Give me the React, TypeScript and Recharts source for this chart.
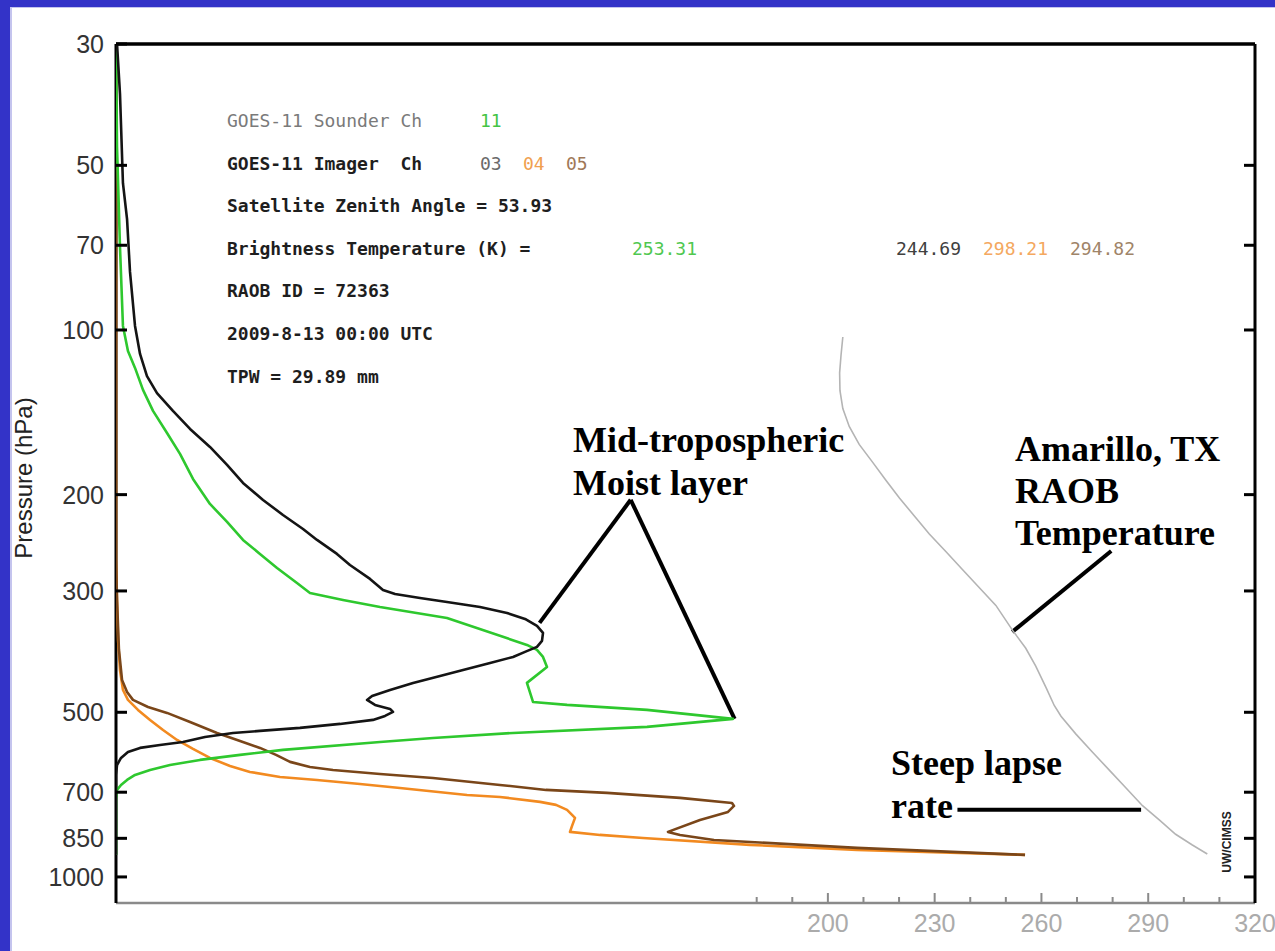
import React from 'react';
import { ScatterChart, Scatter, XAxis, YAxis, ReferenceLine } from 'recharts';

// ---- axis ticks / labels ----
const pressureTicks = [30, 50, 70, 100, 200, 300, 500, 700, 850, 1000];
const tempTicks = [180, 190, 200, 210, 220, 230, 240, 250, 260, 270, 280, 290, 300, 310, 320];
const tempLabels = [200, 230, 260, 290, 320];
const tempMajor = [200, 230, 260, 290];

// ---- weighting functions: [relative weight (0..1 of plot width), pressure hPa] ----
const imagerCh03: [number, number][] = [
  [0.0009, 30], [0.0035, 37], [0.0061, 53.9], [0.0097, 62.7], [0.0123, 78.3], [0.0167, 98.3],
  [0.0211, 110.6], [0.0272, 121.4], [0.036, 130.4], [0.05, 140.6], [0.065, 151.7], [0.0825, 163.6],
  [0.0975, 176.5], [0.1115, 190.4], [0.1291, 204.5], [0.1466, 217.9], [0.1642, 231.1], [0.1765, 242],
  [0.194, 256.7], [0.2054, 268.9], [0.223, 285.2], [0.2344, 298.8], [0.245, 303.8], [0.2669, 309],
  [0.2906, 314.2], [0.3196, 320.9], [0.3433, 329.1], [0.3591, 337.5], [0.3696, 347.6], [0.3749, 358],
  [0.374, 370.2], [0.3696, 379.7], [0.3591, 387.8], [0.3486, 396.1], [0.3284, 406.2], [0.3047, 418.4],
  [0.2845, 429.1], [0.2608, 441.8], [0.2406, 455.1], [0.2248, 466.8], [0.2204, 474.6], [0.2274, 484.7],
  [0.2406, 492.9], [0.2432, 499.2], [0.2362, 507.7], [0.2256, 516.3], [0.1967, 525.1], [0.1615, 534],
  [0.1264, 540.8], [0.1027, 545.4], [0.0781, 554.7], [0.0588, 566.6], [0.0386, 573.7], [0.0211, 580.9],
  [0.0105, 590.8], [0.0044, 606], [0.0009, 624.2], [0, 651], [0, 911.3],
];
const sounderCh11: [number, number][] = [
  [0, 30], [0.0009, 46.3], [0.0035, 70.5], [0.0061, 98.3], [0.0105, 109.2], [0.0167, 117.3],
  [0.0237, 128.7], [0.0325, 140.6], [0.0448, 154.3], [0.0562, 168.5], [0.0676, 187.2], [0.0825, 208],
  [0.0975, 224.3], [0.1115, 242], [0.1264, 256.7], [0.1414, 272.3], [0.1589, 290.1], [0.1703, 302.6],
  [0.1993, 311.6], [0.2318, 320.9], [0.2906, 336.1], [0.3608, 376.5], [0.3696, 384.6], [0.3749, 396.1],
  [0.3784, 413.1], [0.3608, 441.8], [0.3661, 478.7], [0.396, 484.7], [0.4662, 495], [0.5417, 514.1],
  [0.4662, 531.7], [0.3486, 545.4], [0.2783, 557.2], [0.2318, 566.6], [0.1466, 585.8], [0.1089, 598.2],
  [0.0737, 611], [0.0474, 624.2], [0.0299, 637.4], [0.0167, 651], [0.0097, 664.8], [0.0044, 678.9],
  [0.0009, 693.3], [0, 723.2], [0, 911.3],
];
const imagerCh04: [number, number][] = [
  [0, 30], [0, 263.3], [0.0009, 311.6], [0.0018, 368.6], [0.0035, 418.4], [0.0061, 455.1],
  [0.0105, 474.6], [0.0193, 495], [0.0299, 516.3], [0.0413, 538.7], [0.0536, 561.8], [0.0676, 583.4],
  [0.0825, 606], [0.1001, 626.8], [0.1176, 642.7], [0.144, 656.4], [0.1765, 664.8], [0.2142, 676],
  [0.2493, 687.5], [0.3082, 708.1], [0.3371, 714.1], [0.3723, 729.1], [0.3863, 738.4], [0.396, 754.2],
  [0.403, 780], [0.4004, 806.7], [0.3986, 827.3], [0.4249, 837.9], [0.4627, 848.6], [0.5566, 873.9],
  [0.6506, 892.4], [0.7981, 911.3],
];
const imagerCh05: [number, number][] = [
  [0, 30], [0, 263.3], [0.0009, 311.6], [0.0026, 384.6], [0.0053, 436.4], [0.0097, 459],
  [0.0149, 474.6], [0.0281, 488.9], [0.0448, 501.3], [0.065, 520.7], [0.0887, 545.4], [0.1089, 564.2],
  [0.1264, 580.9], [0.1405, 598.2], [0.1528, 616.1], [0.1703, 629.4], [0.1905, 637.4], [0.2318, 648.3],
  [0.2783, 659.4], [0.3371, 678.9], [0.3775, 693.3], [0.4311, 702.1], [0.4952, 716.8], [0.5408, 732.3],
  [0.5426, 741.6], [0.5373, 760.5], [0.5127, 786.7], [0.4846, 827.3], [0.4952, 837.9], [0.525, 855.8],
  [0.6506, 884.9], [0.7981, 911.3],
];

// ---- RAOB temperature profile: [T (K), pressure hPa] ----
const raobTemp: [number, number][] = [
  [204.2, 103.0], [203.7, 111.1], [203.3, 119.8], [203.4, 129.1], [204.2, 139.2], [206.0, 150.1],
  [208.8, 161.9], [212.6, 174.6], [216.3, 188.2], [220.1, 202.9], [224.3, 218.8], [228.5, 236.0],
  [233.2, 254.3], [237.8, 274.2], [242.5, 295.7], [247.2, 318.8], [251.9, 354.2], [255.6, 381.9],
  [258.4, 411.8], [261.3, 450.6], [263.6, 485.9], [265.5, 508.5], [269.7, 548.1], [274.3, 590.9],
  [279.0, 637.2], [283.7, 687.1], [288.4, 740.9], [293.1, 786.8], [297.7, 835.6], [302.4, 874.1],
  [306.6, 907.8],
];

// ---- annotation pointer segments in data coords [T, p] ----
const pointerMoistA: [number, number][] = [[144.6, 204.4], [119.0, 343.2]];
const pointerMoistB: [number, number][] = [[144.6, 204.4], [173.8, 514]];
const pointerRaob: [number, number][] = [[279.6, 253.5], [251.8, 356.4]];
const pointerLapse: [number, number][] = [[236.4, 754], [288.0, 754]];

// ---- info block text ----
const infoLines = [
  'GOES-11 Sounder Ch',
  'GOES-11 Imager  Ch',
  'Satellite Zenith Angle = 53.93',
  'Brightness Temperature (K) =',
  'RAOB ID = 72363',
  '2009-8-13 00:00 UTC',
  'TPW = 29.89 mm',
];
const sounderChannels = ['11'];
const imagerChannels = ['03', '04', '05'];
const brightnessTemps = ['253.31', '244.69', '298.21', '294.82'];

const C_BLACK = '#141414';
const C_GREEN = '#2ec82e';
const C_ORANGE = '#f28a20';
const C_BROWN = '#7a4619';
const C_GRAY = '#b4b4b4';

const toW = (a: [number, number][]) => a.map(([w, p]) => ({ w, p }));
const toT = (a: [number, number][]) => a.map(([T, p]) => ({ T, p }));
const seg = (a: [number, number][]) => a.map(([x, y]) => ({ x, y }));

const Empty = () => <g />;

const LeftTick = (props: any) => {
  const { x, y, payload } = props;
  return (
    <g>
      <line x1={x} y1={y} x2={x + 11} y2={y} stroke="#000" strokeWidth={3} />
      <text x={x - 12} y={y} dy="0.36em" textAnchor="end" fontFamily="'Liberation Sans', Arial, sans-serif" fontSize={25} fill="#333">
        {payload.value}
      </text>
    </g>
  );
};

const RightTick = (props: any) => {
  const { x, y } = props;
  return <line x1={x} y1={y} x2={x - 11} y2={y} stroke="#000" strokeWidth={3} />;
};

const BottomTick = (props: any) => {
  const { x, y, payload } = props;
  const v = payload.value as number;
  const len = tempMajor.includes(v) ? 10 : 6;
  return (
    <g>
      {v < 320 && <line x1={x} y1={y} x2={x} y2={y - len} stroke="#8a8a8a" strokeWidth={2} />}
      {tempLabels.includes(v) && (
        <text x={x} y={y + 29} textAnchor="middle" fontFamily="'Liberation Sans', Arial, sans-serif" fontSize={25} fill="#ababab">
          {v}
        </text>
      )}
    </g>
  );
};

const mono = "'DejaVu Sans Mono', 'Liberation Mono', monospace";
const serif = "'Liberation Serif', 'Times New Roman', serif";

export default function App() {
  const infoY = [127, 170, 212, 255, 297, 340, 383];
  const series: { data: [number, number][]; color: string }[] = [
    { data: imagerCh04, color: C_ORANGE },
    { data: imagerCh05, color: C_BROWN },
    { data: sounderCh11, color: C_GREEN },
    { data: imagerCh03, color: C_BLACK },
  ];
  return (
    <div style={{ position: 'absolute', left: 0, top: 0, width: 1275, height: 951, background: '#3333c8', overflow: 'hidden' }}>
      <div
        style={{
          position: 'absolute', left: 10, top: 7, right: 0, bottom: 0, background: '#fff',
          borderLeft: '2px solid #c4c4ee', borderTop: '1px solid #c4c4ee',
        }}
      />
      <div style={{ position: 'absolute', left: 0, top: 0 }}>
        <ScatterChart width={1275} height={951} margin={{ top: 44, right: 0, bottom: 0, left: 0 }}>
          <XAxis
            xAxisId="t" dataKey="T" type="number" domain={[0, 320]} ticks={tempTicks} interval={0}
            allowDataOverflow height={48} tickSize={0} tickMargin={0} tickLine={false}
            axisLine={{ stroke: '#8a8a8a', strokeWidth: 2.5 }} tick={<BottomTick />}
          />
          <XAxis xAxisId="w" dataKey="w" type="number" domain={[0, 1]} orientation="top" allowDataOverflow height={0} hide />
          <YAxis
            yAxisId="p" dataKey="p" type="number" scale="log" domain={[30, 1116]} reversed allowDataOverflow
            ticks={pressureTicks} interval={0} width={116} tickSize={0} tickMargin={0} tickLine={false}
            axisLine={{ stroke: '#000', strokeWidth: 3 }} tick={<LeftTick />}
          />
          <YAxis
            yAxisId="pr" dataKey="p" type="number" scale="log" domain={[30, 1116]} reversed allowDataOverflow
            orientation="right" ticks={pressureTicks.slice(1)} interval={0} width={20} tickSize={0} tickMargin={0}
            tickLine={false} axisLine={{ stroke: '#000', strokeWidth: 3 }} tick={<RightTick />}
          />

          <ReferenceLine xAxisId="t" yAxisId="p" y={30} stroke="#000" strokeWidth={3.5} ifOverflow="visible" />

          <Scatter data={toT(raobTemp)} xAxisId="t" yAxisId="p" line={{ stroke: C_GRAY, strokeWidth: 1.6 }} lineType="joint" shape={<Empty />} isAnimationActive={false} />
          {series.map((s, i) => (
            <Scatter key={i} data={toW(s.data)} xAxisId="w" yAxisId="p" line={{ stroke: s.color, strokeWidth: 2.6, strokeLinejoin: 'round' }} lineType="joint" shape={<Empty />} isAnimationActive={false} />
          ))}

          {[pointerMoistA, pointerMoistB, pointerRaob, pointerLapse].map((s, i) => (
            <ReferenceLine key={i} xAxisId="t" yAxisId="p" segment={seg(s)} stroke="#000" strokeWidth={4} ifOverflow="visible" />
          ))}
        </ScatterChart>
      </div>

      <svg width={1275} height={951} style={{ position: 'absolute', left: 0, top: 0, pointerEvents: 'none' }}>
        <text x={23} y={478} transform="rotate(-90 23 478)" textAnchor="middle" dominantBaseline="central"
          fontFamily="'Liberation Sans', Arial, sans-serif" fontSize={24} fill="#222">Pressure (hPa)</text>

        {infoLines.map((t, i) => (
          <text key={i} x={227} y={infoY[i]} fontFamily={mono} fontSize={18} fontWeight={i === 0 ? 'normal' : 'bold'}
            fill={i === 0 ? '#7a7a7a' : '#1e1e1e'} style={{ whiteSpace: 'pre' }}>{t}</text>
        ))}
        <text x={480} y={infoY[0]} fontFamily={mono} fontSize={18} fill="#44c444">{sounderChannels[0]}</text>
        <text x={480} y={infoY[1]} fontFamily={mono} fontSize={18} fill="#6a6a6a">{imagerChannels[0]}</text>
        <text x={523} y={infoY[1]} fontFamily={mono} fontSize={18} fill="#f0a050">{imagerChannels[1]}</text>
        <text x={566} y={infoY[1]} fontFamily={mono} fontSize={18} fill="#a07858">{imagerChannels[2]}</text>
        <text x={632} y={infoY[3]} fontFamily={mono} fontSize={18} fill="#50c850">{brightnessTemps[0]}</text>
        <text x={896} y={infoY[3]} fontFamily={mono} fontSize={18} fill="#404040">{brightnessTemps[1]}</text>
        <text x={983} y={infoY[3]} fontFamily={mono} fontSize={18} fill="#f4a860">{brightnessTemps[2]}</text>
        <text x={1070} y={infoY[3]} fontFamily={mono} fontSize={18} fill="#a08468">{brightnessTemps[3]}</text>

        <g fontFamily={serif} fontWeight="bold" fontSize={36} fill="#000">
          <text x={573} y={452}>Mid-tropospheric</text>
          <text x={573} y={495}>Moist layer</text>
          <text x={1015} y={461}>Amarillo, TX</text>
          <text x={1015} y={503}>RAOB</text>
          <text x={1015} y={545}>Temperature</text>
          <text x={891} y={775}>Steep lapse</text>
          <text x={891} y={818}>rate</text>
        </g>

        <text x={1227} y={842} transform="rotate(-90 1227 842)" textAnchor="middle" dominantBaseline="central"
          fontFamily="'Liberation Sans', Arial, sans-serif" fontWeight="bold" fontSize={12} fill="#222">UW/CIMSS</text>
      </svg>
    </div>
  );
}
